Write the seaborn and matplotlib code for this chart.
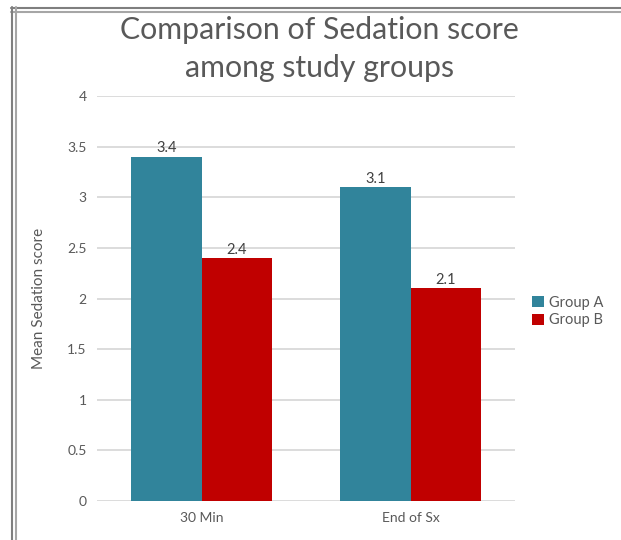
import matplotlib
matplotlib.use("Agg")
import matplotlib.pyplot as plt
import seaborn as sns
import pandas as pd
from matplotlib.lines import Line2D

categories = ["30 Min", "End of Sx"]
group_a = [3.4, 3.1]
group_b = [2.4, 2.1]
series = ["Group A", "Group B"]
yticks = [0, 0.5, 1, 1.5, 2, 2.5, 3, 3.5, 4]
ytick_labels = ["0", "0.5", "1", "1.5", "2", "2.5", "3", "3.5", "4"]

df = pd.DataFrame({
    "Time": categories * 2,
    "Score": group_a + group_b,
    "Group": [series[0]] * len(categories) + [series[1]] * len(categories),
})

sns.set_theme(style="white")
plt.rcParams["font.family"] = ["Lato", "DejaVu Sans"]

fig = plt.figure(figsize=(6.21, 5.40), dpi=100)
ax = fig.add_axes([97 / 621, 1 - 501 / 540, 418 / 621, 405 / 540])

palette = {"Group A": "#31849B", "Group B": "#C00000"}
sns.barplot(data=df, x="Time", y="Score", hue="Group", palette=palette,
            width=0.67, gap=0, linewidth=0, saturation=1, ax=ax, zorder=3,
            legend=True)

ax.set_ylim(0, 4)
ax.set_xlim(-0.5, 1.5)
ax.set_yticks(yticks)
ax.set_yticklabels(ytick_labels)
ax.yaxis.grid(True, color="#D9D9D9", linewidth=1.3, zorder=0)
ax.set_axisbelow(True)
for s in ax.spines.values():
    s.set_visible(False)
ax.tick_params(axis="both", length=0, colors="#595959", labelsize=10)
ax.tick_params(axis="y", pad=7.5)
ax.tick_params(axis="x", pad=8)
ax.set_xlabel("")
ax.set_ylabel("Mean Sedation score", color="#595959", fontsize=11)
ax.yaxis.set_label_coords((46 - 97) / 418, 0.5)

for cont in ax.containers:
    ax.bar_label(cont, labels=[f"{v:.1f}" for v in cont.datavalues],
                 color="#404040", fontsize=10.5, padding=1)

leg = ax.legend(loc="center left", bbox_to_anchor=(1.01, 0.468), frameon=False,
                fontsize=10.5, handlelength=0.8, handleheight=0.8,
                handletextpad=0.35, labelspacing=0.25)
for t in leg.get_texts():
    t.set_color("#595959")

fig.text(0.514, 1 - 49 / 540, "Comparison of Sedation score\namong study groups",
         ha="center", va="center", fontsize=21.8, color="#595959", linespacing=1.45)

# outer frame lines
W, H = 621, 540
for y, c in [(7.5, "#7F7F7F"), (11.5, "#A6A6A6")]:
    fig.add_artist(Line2D([11 / W, 1], [1 - y / H] * 2, color=c, linewidth=1.5,
                          transform=fig.transFigure))
for x, c in [(11.5, "#7F7F7F"), (15.5, "#A6A6A6")]:
    fig.add_artist(Line2D([x / W] * 2, [0, 1 - 7 / H], color=c, linewidth=1.5,
                          transform=fig.transFigure))

fig.savefig("out.png", dpi=100)
